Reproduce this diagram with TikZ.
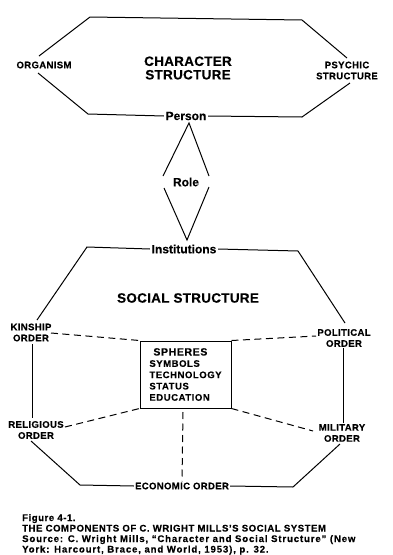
\documentclass[tikz,border=0pt]{standalone}
\usepackage{fontspec}
\setmainfont{Liberation Sans}
\tikzset{
  ln/.style={line width=1pt, line join=miter},
  dsh/.style={line width=1pt, dash pattern=on 7pt off 4.5pt},
  lab/.style={font=\fontsize{9.5}{11}\selectfont\bfseries\addfontfeature{LetterSpace=4,FakeBold=0.3}, align=center, inner sep=1pt},
  big/.style={font=\fontsize{13.5}{13.5}\selectfont\bfseries\addfontfeature{LetterSpace=2,FakeBold=0.3}, align=center, inner sep=1pt},
  mid/.style={font=\fontsize{12}{13}\selectfont\bfseries\addfontfeature{FakeBold=0.3}, inner sep=1.5pt},
  captxt/.style={font=\fontsize{9.6}{10.7}\selectfont\bfseries\addfontfeature{LetterSpace=5.5,FakeBold=0.4}, anchor=base west, inner sep=0pt},
  srctxt/.style={font=\fontsize{9.6}{10.7}\selectfont\bfseries\addfontfeature{LetterSpace=9,FakeBold=0.4}, anchor=base west, inner sep=0pt},
  spbox/.style={draw, line width=1pt, minimum width=91pt, minimum height=67pt, inner sep=0pt, align=left,
    font=\fontsize{9.5}{11.3}\selectfont\bfseries\addfontfeature{LetterSpace=6,FakeBold=0.3}},
}
\begin{document}
\begin{tikzpicture}[x=1pt,y=-1pt]
\useasboundingbox (0,0) rectangle (393,555);
% ---- character structure ----
\node[big] (charstr) at (188,68) {CHARACTER\\STRUCTURE};
\node[lab] (organism) at (44,65) {ORGANISM};
\node[lab] (psychic) at (347,70.5) {PSYCHIC\\STRUCTURE};
\node[mid] (person) at (186,116) {Person};
\coordinate (t1) at (90,17);
\coordinate (t2) at (302,20);
\coordinate (t3) at (347,58);
\coordinate (t4) at (350,83);
\coordinate (t5) at (302,117);
\coordinate (t6) at (88,114);
\coordinate (t7) at (38,73);
\coordinate (t8) at (39,56);
\draw[ln] (t8) -- (t1) -- (t2) -- (t3);
\draw[ln] (t4) -- (t5) -- (person.east);
\draw[ln] (person.west) -- (t6) -- (t7);
% ---- role diamond ----
\node[mid] (role) at (186,182) {Role};
\node[mid] (inst) at (184,249) {Institutions};
\coordinate (d0) at (189,123);
\coordinate (d1) at (163,176);
\coordinate (d2) at (209,176);
\coordinate (d3) at (164,188);
\coordinate (d4) at (209,187);
\coordinate (d5) at (187,240);
\draw[ln] (d1) -- (d0) -- (d2);
\draw[ln] (d3) -- (d5) -- (d4);
% ---- social structure ----
\node[big] (social) at (188,298) {SOCIAL STRUCTURE};
\node[lab] (kinship) at (31,332.5) {KINSHIP\\ORDER};
\node[lab] (political) at (344,338) {POLITICAL\\ORDER};
\node[lab] (religious) at (36,430) {RELIGIOUS\\ORDER};
\node[lab] (military) at (342,433) {MILITARY\\ORDER};
\node[lab] (economic) at (182,486) {ECONOMIC ORDER};
\coordinate (s1) at (87,247);
\coordinate (s2) at (37,320);
\coordinate (s3) at (298,251);
\coordinate (s4) at (345,323);
\coordinate (s5) at (32,344);
\coordinate (s6) at (32,418);
\coordinate (s7) at (343,348);
\coordinate (s8) at (343,423);
\coordinate (s9) at (31,441);
\coordinate (s10) at (80,485);
\coordinate (s11) at (293,487);
\coordinate (s12) at (340,444);
\draw[ln] (inst.west) -- (s1) -- (s2);
\draw[ln] (inst.east) -- (s3) -- (s4);
\draw[ln] (s5) -- (s6);
\draw[ln] (s7) -- (s8);
\draw[ln] (s9) -- (s10) -- (economic.west);
\draw[ln] (economic.east) -- (s11) -- (s12);
% ---- spheres ----
\node[spbox] (spheres) at (185.5,374.5) {\hspace*{4pt}{\fontsize{10.5}{11.3}\selectfont SPHERES}\\SYMBOLS\\TECHNOLOGY\\STATUS\\EDUCATION};
\coordinate (k1) at (51,333);
\coordinate (p1) at (316,336);
\coordinate (r1) at (65,427);
\coordinate (m1) at (313,431);
\coordinate (e0) at (183,412);
\draw[dsh] (k1) -- (spheres.north west);
\draw[dsh] (spheres.north east) -- (p1);
\draw[dsh] (r1) -- (spheres.south west);
\draw[dsh] (spheres.south east) -- (m1);
\draw[dsh] (e0) -- (economic.north);
% ---- caption ----
\node[captxt] (cap1) at (22,521) {Figure 4-1.};
\node[captxt] (cap2) at (22,531.5) {THE COMPONENTS OF C. WRIGHT MILLS’S SOCIAL SYSTEM};
\node[srctxt] (cap3) at (22,542) {Source: C. Wright Mills, “Character and Social Structure” (New};
\node[srctxt] (cap4) at (22,552.5) {York: Harcourt, Brace, and World, 1953), p. 32.};
\end{tikzpicture}
\end{document}
